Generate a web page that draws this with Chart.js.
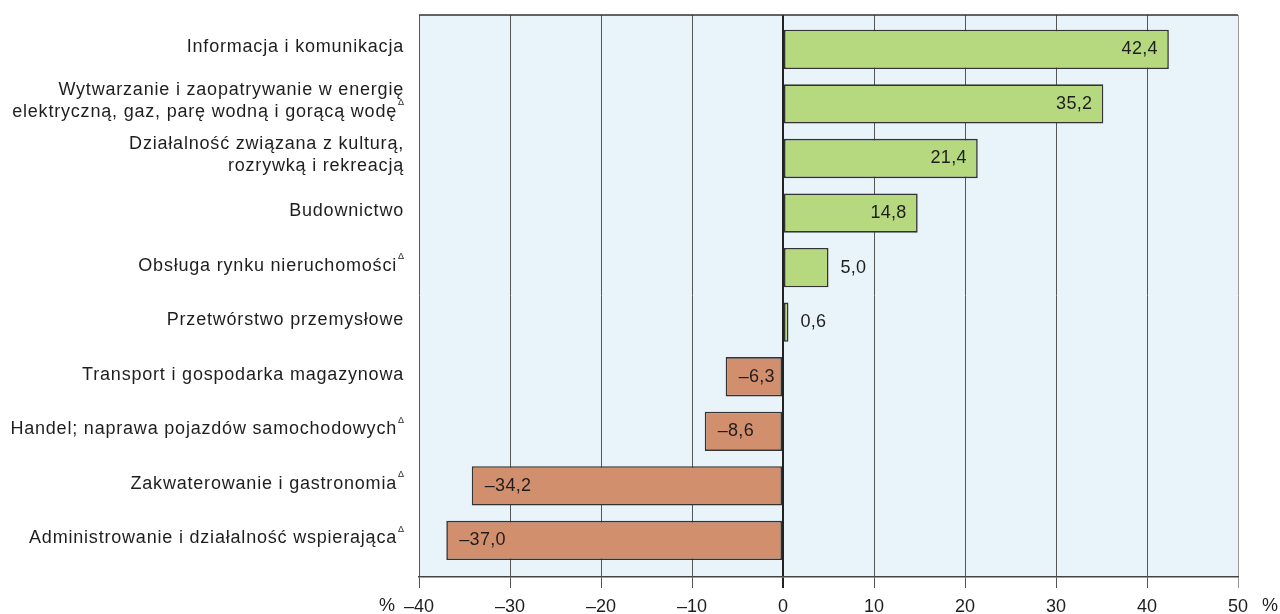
<!DOCTYPE html>
<html lang="pl">
<head>
    <meta charset="UTF-8">
    <title>Dynamika według sekcji</title>
    <script src="https://cdn.jsdelivr.net/npm/chart.js"></script>
    <style>
        html, body { margin: 0; padding: 0; background: #ffffff; }
        #wrap { width: 1280px; height: 614px; }
    </style>
</head>
<body>
    <div id="wrap"><canvas id="wykres"></canvas></div>

    <script>
        // dane z wykresu
        const sekcje = [
            ['Informacja i komunikacja'],
            ['Wytwarzanie i zaopatrywanie w energię', 'elektryczną, gaz, parę wodną i gorącą wodę'],
            ['Działalność związana z kulturą,', 'rozrywką i rekreacją'],
            ['Budownictwo'],
            ['Obsługa rynku nieruchomości'],
            ['Przetwórstwo przemysłowe'],
            ['Transport i gospodarka magazynowa'],
            ['Handel; naprawa pojazdów samochodowych'],
            ['Zakwaterowanie i gastronomia'],
            ['Administrowanie i działalność wspierająca']
        ];
        const znacznikDelta = [false, true, false, false, true, false, false, true, true, true];
        const wartosci = [42.4, 35.2, 21.4, 14.8, 5.0, 0.6, -6.3, -8.6, -34.2, -37.0];
        const pozycje = [0, 1, 2, 3, 4, 5, 6, 7, 8, 9];
        const osX = { min: -40, max: 50, krok: 10 };
        const osY = { min: -0.63, max: 9.67 };

        const ZIELONY = '#b6d97f';
        const CEGLASTY = '#d28f6e';
        const TLO = '#e8f3fa';
        const FONT = '"Liberation Sans", Arial, sans-serif';

        const fmt = v => (v < 0 ? '\u2013' : '') + Math.abs(v).toFixed(1).replace('.', ',');

        const tloPlugin = {
            id: 'tlo',
            beforeDraw(chart) {
                const { ctx, chartArea: a } = chart;
                ctx.save();
                ctx.fillStyle = TLO;
                ctx.fillRect(a.left, a.top, a.right - a.left, a.bottom - a.top);
                ctx.restore();
            },
            afterDatasetsDraw(chart) {
                // górna krawędź pola wykresu
                const { ctx, chartArea: a } = chart;
                ctx.save();
                ctx.strokeStyle = '#333';
                ctx.lineWidth = 1.5;
                ctx.beginPath();
                ctx.moveTo(a.left, a.top);
                ctx.lineTo(a.right, a.top);
                ctx.stroke();
                ctx.restore();
            }
        };

        const etykietyPlugin = {
            id: 'etykiety',
            afterDraw(chart) {
                const ctx = chart.ctx;
                const y = chart.scales.y;
                const x = chart.scales.x;
                ctx.save();
                ctx.fillStyle = '#1e1e1e';
                ctx.textBaseline = 'middle';

                // etykiety kategorii
                ctx.font = '18px ' + FONT;
                ctx.letterSpacing = '0.8px';
                sekcje.forEach((linie, i) => {
                    const cy = y.getPixelForValue(pozycje[i]) - (linie.length > 1 ? 3 : 2);
                    const lh = 22;
                    const start = cy - (linie.length - 1) * lh / 2;
                    linie.forEach((t, j) => {
                        const ost = j === linie.length - 1;
                        const prawa = (ost && znacznikDelta[i]) ? 397 : 404;
                        ctx.textAlign = 'right';
                        ctx.fillText(t, prawa, start + j * lh);
                        if (ost && znacznikDelta[i]) {
                            ctx.save();
                            ctx.font = '9px ' + FONT;
                            ctx.letterSpacing = '0px';
                            ctx.textAlign = 'left';
                            ctx.fillText('\u0394', 398, start + j * lh - 9);
                            ctx.restore();
                        }
                    });
                });

                // etykiety wartości
                ctx.letterSpacing = '0.3px';
                const meta = chart.getDatasetMeta(0);
                meta.data.forEach((bar, i) => {
                    const v = wartosci[i];
                    const txt = fmt(v);
                    const szer = ctx.measureText(txt).width;
                    const zero = x.getPixelForValue(0);
                    let px;
                    if (v >= 0) {
                        if (bar.x - zero > szer + 20) { ctx.textAlign = 'right'; px = bar.x - 11; }
                        else { ctx.textAlign = 'left'; px = bar.x + 12; }
                    } else {
                        ctx.textAlign = 'left'; px = bar.x + 13;
                    }
                    ctx.fillText(txt, px, bar.y);
                });

                // znaki procentu
                ctx.textAlign = 'center';
                ctx.letterSpacing = '0px';
                const ty = chart.chartArea.bottom + 29;
                ctx.fillText('%', 387, ty);
                ctx.fillText('%', 1270, ty);
                ctx.restore();
            }
        };

        new Chart(document.getElementById('wykres'), {
            type: 'bar',
            data: {
                datasets: [{
                    data: wartosci.map((v, i) => ({ x: v, y: pozycje[i] })),
                    backgroundColor: wartosci.map(v => v >= 0 ? ZIELONY : CEGLASTY),
                    borderColor: '#333',
                    borderWidth: 1.6,
                    borderSkipped: false,
                    barPercentage: 0.72,
                    categoryPercentage: 1
                }]
            },
            options: {
                indexAxis: 'y',
                responsive: true,
                maintainAspectRatio: false,
                animation: false,
                layout: { padding: { left: 419, right: 42, top: 15, bottom: 0 } },
                plugins: { legend: { display: false }, tooltip: { enabled: false } },
                scales: {
                    y: {
                        type: 'linear',
                        display: false,
                        reverse: true,
                        offset: false,
                        min: osY.min,
                        max: osY.max,
                        afterDataLimits: s => { s.min = osY.min; s.max = osY.max; },
                        afterBuildTicks: s => { s.ticks = pozycje.map(v => ({ value: v })); }
                    },
                    x: {
                        min: osX.min,
                        max: osX.max,
                        afterFit: s => { s.height = 37; },
                        ticks: {
                            stepSize: osX.krok,
                            color: '#1e1e1e',
                            padding: 9,
                            font: { family: FONT, size: 18, lineHeight: 1.1 },
                            callback: v => (v < 0 ? '\u2013' + Math.abs(v) : String(v))
                        },
                        grid: {
                            tickLength: 11,
                            color: c => c.tick && c.tick.value === 0 ? '#222' : (c.tick && c.tick.value === osX.max ? '#999' : '#555'),
                            lineWidth: c => c.tick && c.tick.value === 0 ? 2 : 1
                        },
                        border: { display: true, color: '#444', width: 1.5 }
                    }
                }
            },
            plugins: [tloPlugin, etykietyPlugin]
        });
    </script>
</body>
</html>
